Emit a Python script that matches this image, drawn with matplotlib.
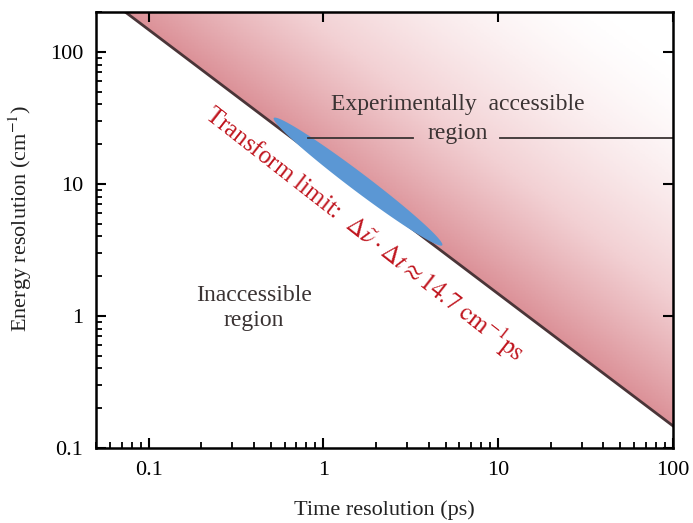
import numpy as np
import matplotlib
matplotlib.use("Agg")
import matplotlib.pyplot as plt
from matplotlib.colors import LinearSegmentedColormap
from matplotlib.patches import Polygon

plt.rcParams['font.family'] = ['Liberation Serif', 'DejaVu Serif']
plt.rcParams['mathtext.fontset'] = 'stix'

# transform limit: energy resolution * time resolution (cm^-1 ps)
limit_product = 14.7
x_limits = [0.05, 100]
y_limits = [0.1, 200]
x_ticks = [0.1, 1, 10, 100]
x_ticklabels = ['0.1', '1', '10', '100']
y_ticks = [0.1, 1, 10, 100]
y_ticklabels = ['0.1', '1', '10', '100']
# time span (ps) covered by the highlighted band along the limit
band_times = [0.5, 4.6]
# leader line for the accessible-region label (ps, cm^-1)
leader_y = 22.3
leader_left = [0.82, 3.27]
leader_right = [10.3, 100]

fig = plt.figure(figsize=(6.93, 5.23), dpi=100)
ax = fig.add_axes([0.1385, 0.1434, 0.8326, 0.8337])
ax.set_xscale('log')
ax.set_yscale('log')
ax.set_xlim(x_limits)
ax.set_ylim(y_limits)
fig.canvas.draw()
to_px = ax.transData.transform
to_data = ax.transData.inverted().transform

# shaded accessible region: fades with distance from the limit line
u = np.linspace(np.log10(x_limits[0]), np.log10(x_limits[1]), 400)
v = np.linspace(np.log10(y_limits[0]), np.log10(y_limits[1]), 300)
U, V = np.meshgrid(u, v)
bb = ax.get_window_extent()
px_u = bb.width / (u[-1] - u[0])
px_v = bb.height / (v[-1] - v[0])
d_px = (U + V - np.log10(limit_product)) * (px_u * px_v) / np.hypot(px_u, px_v)
shade = np.clip(1 - d_px / 300.0, 0, 1) ** 1.6
cmap = LinearSegmentedColormap.from_list('pinks', ['#ffffff', '#f2d0d3', '#db9097'])
mesh = ax.pcolormesh(10 ** u, 10 ** v, shade, cmap=cmap, vmin=0, vmax=1,
                     shading='auto', rasterized=True, zorder=0)
t0 = limit_product / y_limits[1]
region = Polygon([(t0, y_limits[1]), (x_limits[1], y_limits[1]),
                  (x_limits[1], limit_product / x_limits[1])],
                 closed=True, transform=ax.transData)
mesh.set_clip_path(region)

# transform limit line
t_line = np.array([t0, x_limits[1]])
ax.plot(t_line, limit_product / t_line, color='#4a3538', lw=2.0, zorder=3)

# highlighted elliptical band lying on the limit
p0 = to_px((band_times[0], limit_product / band_times[0]))
p1 = to_px((band_times[1], limit_product / band_times[1]))
ctr = (p0 + p1) / 2
e1 = (p1 - p0) / np.linalg.norm(p1 - p0)
e2 = np.array([e1[1], -e1[0]])
if e2[1] < 0:
    e2 = -e2
half_len = np.linalg.norm(p1 - p0) / 2
theta = np.linspace(0, 2 * np.pi, 200)
pts = (ctr + 5.0 * e2
       + np.outer(half_len * np.cos(theta), e1)
       + np.outer(9.0 * np.sin(theta), e2))
ax.add_patch(Polygon(to_data(pts), closed=True, facecolor='#5b97d4',
                     edgecolor='none', zorder=4))

# region labels
lab_kw = dict(ha='center', va='center', fontsize=17, color='#3a3333', zorder=5)
ax.text(5.9, 40.0, 'Experimentally  accessible', **lab_kw)
ax.text(5.9, 24.2, 'region', **lab_kw)
ax.plot(leader_left, [leader_y, leader_y], color='#3a3333', lw=1.3, zorder=5)
ax.plot(leader_right, [leader_y, leader_y], color='#3a3333', lw=1.3, zorder=5)
ax.text(0.40, 1.42, 'Inaccessible', **lab_kw)
ax.text(0.40, 0.93, 'region', **lab_kw)

ax.text(1.72, 4.2,
        r'Transform limit:  $\Delta\tilde{\nu}\cdot\Delta t \approx 14.7\ \mathrm{cm}^{-1}\mathrm{ps}$',
        ha='center', va='center', rotation=-38.0, rotation_mode='anchor',
        fontsize=18, color='#c0161f', zorder=5)

# axes styling
for s in ax.spines.values():
    s.set_linewidth(1.8)
    s.set_color('black')
    s.set_zorder(6)
ax.set_xticks(x_ticks)
ax.set_xticklabels(x_ticklabels)
ax.set_yticks(y_ticks)
ax.set_yticklabels(y_ticklabels)
ax.tick_params(which='major', direction='in', length=7, width=1.5,
               labelsize=16, top=True, right=True, pad=9)
ax.tick_params(which='minor', direction='in', length=4, width=1.3,
               top=False, right=False)
ax.set_xlabel('Time resolution (ps)', fontsize=16, color='#222222')
ax.set_ylabel(r'Energy resolution (cm$^{-1}$)', fontsize=16, color='#222222')
ax.xaxis.set_label_coords(0.5, -0.12)
ax.yaxis.set_label_coords(-0.108, 0.527)

fig.savefig('out.png', dpi=100)
